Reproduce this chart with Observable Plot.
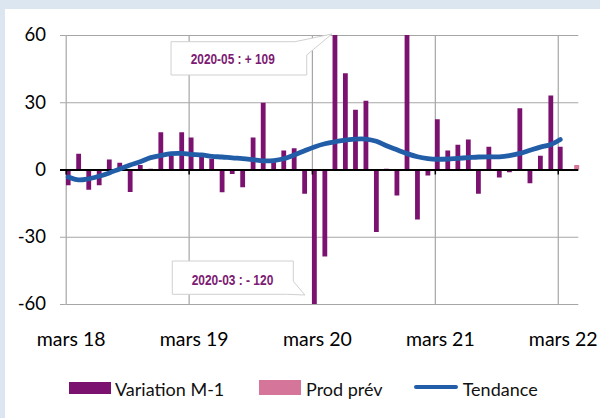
<!DOCTYPE html>
<html>
<head>
<meta charset="utf-8">
<script src="https://cdn.jsdelivr.net/npm/d3@7"></script>
<script src="https://cdn.jsdelivr.net/npm/@observablehq/plot@0.6"></script>
<style>
  html, body { margin: 0; padding: 0; }
  body { width: 600px; height: 418px; background: #dce6f1; position: relative; overflow: hidden; font-family: Lato, sans-serif; }
  #panel { position: absolute; left: 5px; top: 9px; right: 0; bottom: 0; background: #fff; }
  #chart { position: absolute; left: 0; top: 0; }
  .sw { position: absolute; }
  .lt { position: absolute; font-size: 18px; line-height: 18px; color: #111; white-space: nowrap; }
</style>
</head>
<body>
<div id="panel"></div>
<div id="chart"></div>
<div id="legend"></div>
<script>
// ---- data ----
const months = [
  "2018-03","2018-04","2018-05","2018-06","2018-07","2018-08","2018-09","2018-10","2018-11","2018-12",
  "2019-01","2019-02","2019-03","2019-04","2019-05","2019-06","2019-07","2019-08","2019-09","2019-10","2019-11","2019-12",
  "2020-01","2020-02","2020-03","2020-04","2020-05","2020-06","2020-07","2020-08","2020-09","2020-10","2020-11","2020-12",
  "2021-01","2021-02","2021-03","2021-04","2021-05","2021-06","2021-07","2021-08","2021-09","2021-10","2021-11","2021-12",
  "2022-01","2022-02","2022-03"
];
const variation = [
  -7, 7, -9, -7, 4.5, 3, -10, 2, 0.3, 16.6,
  6, 16.6, 14.3, 6, 4.8, -10.2, -2, -7.9, 14.3, 29.8, 3.5, 8.5,
  9.5, -10.8, -120, -38.8, 109, 42.9, 26.6, 30.7, -27.9, 0.3, -11.6, 61,
  -22.3, -2.7, 22.4, 8.5, 11, 13.4, -10.8, 10.2, -3.6, -1.2, 27.3, -6.1,
  6.1, 33, 10.2
];
const tendance = [
  -3.1, -4.4, -3.9, -2.8, -1.3, 0.5, 2.2, 3.7, 5.5, 6.5,
  7.3, 7.4, 7.0, 6.7, 6.1, 5.8, 5.4, 5.1, 4.6, 4.1, 4.2, 5.0,
  6.7, 8.6, 10.3, 11.7, 12.6, 13.3, 13.8, 13.8, 12.8, 10.8, 9.0, 7.3,
  5.9, 5.1, 4.8, 4.9, 5.2, 5.5, 5.8, 5.9, 5.9, 6.4, 7.4, 8.8,
  10.2, 11.4, 13.6
];
const prodMonths = ["2022-04"];
const prodPrev = [2];
const yTicks = [-60, -30, 0, 30, 60];
const xTickMonths = ["2018-03", "2019-03", "2020-03", "2021-03", "2022-03"];
const xTickLabels = ["mars 18", "mars 19", "mars 20", "mars 21", "mars 22"];
const xDomain = ["2018-03", "2022-05"];
const annotations = [
  { month: "2020-05", label: "2020-05 : + 109" },
  { month: "2020-03", label: "2020-03 : - 120" }
];
const legendItems = [
  { label: "Variation M-1", kind: "bar", color: "#7b1270" },
  { label: "Prod prév", kind: "bar", color: "#d6759a" },
  { label: "Tendance", kind: "line", color: "#225ea8" }
];

// ---- build ----
const parse = d3.utcParse("%Y-%m");
const data = months.map((m, i) => ({ date: parse(m), variation: variation[i], tendance: tendance[i] }));
const prod = prodMonths.map((m, i) => ({ date: parse(m), value: prodPrev[i] }));
const xTicks = xTickMonths.map(parse);
const fmtX = d => xTickLabels[xTicks.findIndex(t => +t === +d)];

const BAR = legendItems[0].color, PINK = legendItems[1].color, BLUE = legendItems[2].color;
const GRID = "#a6a6a6";

const plot = Plot.plot({
  width: 600,
  height: 360,
  marginLeft: 65.7,
  marginRight: 21.7,
  marginTop: 35,
  marginBottom: 56,
  style: { background: "transparent", fontFamily: "Lato, sans-serif", overflow: "visible" },
  x: { type: "utc", domain: xDomain.map(parse) },
  y: { domain: [-60, 60] },
  marks: [
    Plot.ruleY(yTicks.filter(t => t !== 0), { stroke: GRID, strokeWidth: 1.2 }),
    Plot.ruleX(xTicks, { stroke: GRID, strokeWidth: 1.2 }),
    Plot.axisY({ ticks: yTicks, tickSize: 5.7, tickPadding: 14.5, stroke: GRID, fill: "black",
                 fontSize: 18.5, tickFormat: d => String(d), label: null }),
    Plot.axisX({ ticks: xTicks, tickSize: 0, tickPadding: 28, fill: "black", fontSize: 19.5,
                 tickFormat: fmtX, label: null, dx: 5 }),
    Plot.ruleX(data, { x: "date", y1: 0, y2: "variation", stroke: BAR, strokeWidth: 4.8, dx: 2, clip: true }),
    Plot.ruleX(prod, { x: "date", y1: 0, y2: "value", stroke: PINK, strokeWidth: 5, dx: 8 }),
    Plot.ruleY([0], { stroke: "black", strokeWidth: 1.8, insetLeft: -5.7 }),
    Plot.ruleX(xTicks, { x: d => d, y1: 0, y2: 0, insetBottom: -5, stroke: "black", strokeWidth: 1.5 }),
    Plot.lineY(data, { x: "date", y: "tendance", stroke: BLUE, strokeWidth: 4.8, dx: 2,
                       curve: "catmull-rom", strokeLinecap: "round" })
  ]
});
document.getElementById("chart").appendChild(plot);

// ---- callouts (positioned relative to scale values) ----
const xs = plot.scale("x"), ys = plot.scale("y");
const svg = d3.select(plot);
const g = svg.append("g").attr("text-anchor", "start");
const CALLOUT_FONT = "'Liberation Sans', Arial, sans-serif";
{
  // top callout -> May 2020 bar
  const bx = xs.apply(parse(annotations[0].month)), top = ys.apply(60);
  const L = bx - 161.4, R = bx - 25.7, T = top + 6.7, B = top + 40;
  const tip = [bx - 0.5, top - 1];
  const pts = [[L, T], [R - 11.7, T], tip, [R, T + 13.3], [R, B], [L, B]];
  g.append("path").attr("d", "M" + pts.map(p => p.join(",")).join("L") + "Z")
    .attr("fill", "white").attr("stroke", "#d0d0d0").attr("stroke-width", 1);
  g.append("text").attr("x", L + 19.7).attr("y", (T + B) / 2).attr("dy", "0.36em")
    .attr("text-anchor", "start").attr("font-size", 15).attr("font-weight", "bold")
    .attr("textLength", 84).attr("lengthAdjust", "spacingAndGlyphs")
    .attr("fill", "#7d1a73").attr("font-family", CALLOUT_FONT).text(annotations[0].label);
}
{
  // bottom callout -> March 2020 bar
  const bx = xs.apply(parse(annotations[1].month)), bot = ys.apply(-60);
  const L = bx - 139.6, R = bx - 18.6, T = bot - 43, B = bot - 9.7;
  const tip = [bx - 7, bot - 9];
  const pts = [[L, T], [R, T], [R, B - 13], tip, [R - 6, B], [L, B]];
  g.append("path").attr("d", "M" + pts.map(p => p.join(",")).join("L") + "Z")
    .attr("fill", "white").attr("stroke", "#d0d0d0").attr("stroke-width", 1);
  g.append("text").attr("x", L + 19.4).attr("y", (T + B) / 2 + 1.5).attr("dy", "0.36em")
    .attr("text-anchor", "start").attr("font-size", 15).attr("font-weight", "bold")
    .attr("textLength", 81.6).attr("lengthAdjust", "spacingAndGlyphs")
    .attr("fill", "#7d1a73").attr("font-family", CALLOUT_FONT).text(annotations[1].label);
}

// ---- legend ----
const legend = document.getElementById("legend");
const legPos = [
  { sw: [69, 381.7, 42, 12.5], tx: 115 },
  { sw: [259, 380, 42, 14.5], tx: 306 },
  { sw: [414, 385.3, 44.3, 4], tx: 462.7 }
];
legendItems.forEach((it, i) => {
  const p = legPos[i];
  const s = document.createElement("div");
  s.className = "sw";
  Object.assign(s.style, { left: p.sw[0] + "px", top: p.sw[1] + "px", width: p.sw[2] + "px",
    height: p.sw[3] + "px", background: it.color, borderRadius: it.kind === "line" ? "2px" : "0" });
  legend.appendChild(s);
  const t = document.createElement("div");
  t.className = "lt";
  t.style.left = p.tx + "px";
  t.style.top = "380px";
  t.textContent = it.label;
  legend.appendChild(t);
});
</script>
</body>
</html>
